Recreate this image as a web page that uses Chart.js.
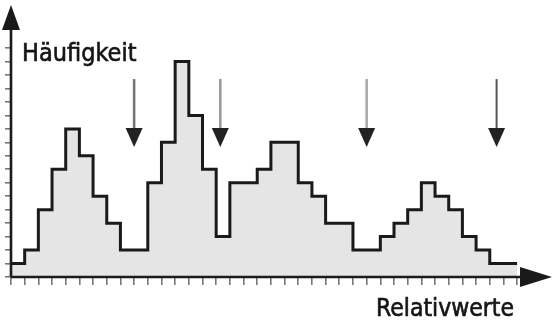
<!DOCTYPE html>
<html lang="de">
<head>
<meta charset="utf-8">
<title>Häufigkeit / Relativwerte</title>
<script src="https://cdn.jsdelivr.net/npm/chart.js@4.4.0/dist/chart.umd.min.js"></script>
<style>
    html, body { margin: 0; padding: 0; background: #fff; }
    #chart { display: block; }
</style>
</head>
<body>
<canvas id="chart" width="560" height="328"></canvas>
<script>
// === Daten ===
// Häufigkeit je Klasse (37 Klassen, von links nach rechts)
const binCounts = [1, 2, 5, 8, 11, 9, 6, 4, 2, 2, 7, 10, 16, 12, 8, 3, 7, 7, 8, 10,
                   10, 7, 6, 4, 4, 2, 2, 3, 4, 5, 7, 6, 5, 3, 2, 1, 1];
// Stellen der Pfeile (in Klassen-Einheiten auf der x-Achse)
const arrowsAt = [9, 15.3, 26, 35.5];
const arrowColors = ['#777777', '#9a9a9a', '#aaaaaa', '#555555'];
// Achsen-Striche
const xTickCount = 37;
const yTickCount = 17;
const xLabel = 'Relativwerte';
const yLabel = 'Häufigkeit';

// Pfeil: oberes Ende und Spitze (in y-Werten)
const arrowTop = 14.7;
const arrowTip = 9.65;

// Punkte für die Treppenlinie aus den Klassen bauen
const stepPoints = binCounts.map((v, i) => ({ x: i, y: v }));
stepPoints.push({ x: binCounts.length, y: binCounts[binCounts.length - 1] });

const ink = '#1a1a1a';
const labelFont = '"DejaVu Sans Condensed", "DejaVu Sans", sans-serif';

// Text etwas kräftiger zeichnen (Vorlage wirkt halbfett)
function drawLabel(ctx, text, x, y, size) {
    ctx.font = size + 'px ' + labelFont;
    ctx.fillText(text, x, y);
    ctx.lineWidth = 0.6;
    ctx.strokeText(text, x, y);
}

// Achsenlinien mit Pfeilspitzen, Markierungspfeile und Beschriftungen
const decorPlugin = {
    id: 'decor',
    afterDatasetsDraw(chart) {
        const { ctx, chartArea } = chart;
        const xs = chart.scales.x;
        const ys = chart.scales.y;
        const x0 = chartArea.left;
        const y0 = chartArea.bottom;
        ctx.save();

        // Markierungspfeile
        arrowsAt.forEach((v, i) => {
            const px = xs.getPixelForValue(v);
            const top = ys.getPixelForValue(arrowTop);
            const tip = ys.getPixelForValue(arrowTip);
            ctx.strokeStyle = arrowColors[i];
            ctx.lineWidth = i === 3 ? 2 : 2.6;
            ctx.beginPath();
            ctx.moveTo(px, top);
            ctx.lineTo(px, tip - 16);
            ctx.stroke();
            ctx.fillStyle = '#222';
            ctx.beginPath();
            ctx.moveTo(px - 8.5, tip - 19);
            ctx.lineTo(px + 8.5, tip - 19);
            ctx.lineTo(px, tip);
            ctx.closePath();
            ctx.fill();
        });

        // Achsen
        ctx.strokeStyle = ink;
        ctx.fillStyle = ink;
        ctx.lineWidth = 2.6;
        ctx.beginPath();
        ctx.moveTo(x0, y0);
        ctx.lineTo(chartArea.right - 20, y0);
        ctx.moveTo(x0, y0);
        ctx.lineTo(x0, chartArea.top + 20);
        ctx.stroke();
        // Pfeilspitze x
        ctx.beginPath();
        ctx.moveTo(chartArea.right - 32, y0 - 10);
        ctx.lineTo(chartArea.right, y0);
        ctx.lineTo(chartArea.right - 32, y0 + 10);
        ctx.closePath();
        ctx.fill();
        // Pfeilspitze y
        ctx.beginPath();
        ctx.moveTo(x0 - 9, chartArea.top + 25);
        ctx.lineTo(x0, chartArea.top);
        ctx.lineTo(x0 + 9, chartArea.top + 25);
        ctx.closePath();
        ctx.fill();

        // Beschriftungen
        ctx.fillStyle = '#151515';
        ctx.strokeStyle = '#151515';
        ctx.textBaseline = 'alphabetic';
        ctx.textAlign = 'left';
        drawLabel(ctx, yLabel, 22, 61, 25);
        drawLabel(ctx, xLabel, 376, 316, 24.5);
        ctx.restore();
    }
};

new Chart(document.getElementById('chart'), {
    type: 'line',
    data: {
        datasets: [{
            data: stepPoints,
            stepped: 'before', // erst waagerecht, dann senkrecht
            borderColor: ink,
            borderWidth: 3,
            backgroundColor: '#e5e5e5',
            fill: 'origin',
            pointRadius: 0,
            borderJoinStyle: 'miter'
        }]
    },
    options: {
        responsive: false,
        animation: false,
        devicePixelRatio: 1,
        layout: { padding: { top: 5, right: 8, left: 0, bottom: 0 } },
        plugins: {
            legend: { display: false },
            tooltip: { enabled: false }
        },
        scales: {
            x: {
                type: 'linear',
                min: 0,
                max: 39.55,
                afterFit: scale => { scale.height = 51; },
                afterBuildTicks: scale => {
                    scale.ticks = Array.from({ length: xTickCount + 1 }, (_, i) => ({ value: i }));
                },
                ticks: { display: false },
                grid: { drawOnChartArea: false, drawTicks: true, tickLength: 8, color: '#777', lineWidth: 1.6 },
                border: { display: false }
            },
            y: {
                type: 'linear',
                min: 0,
                max: 20.2,
                afterFit: scale => { scale.width = 11; },
                afterBuildTicks: scale => {
                    scale.ticks = Array.from({ length: yTickCount + 1 }, (_, i) => ({ value: i }));
                },
                ticks: { display: false },
                grid: { drawOnChartArea: false, drawTicks: true, tickLength: 6, color: '#777', lineWidth: 1.6 },
                border: { display: false }
            }
        }
    },
    plugins: [decorPlugin]
});
</script>
</body>
</html>
